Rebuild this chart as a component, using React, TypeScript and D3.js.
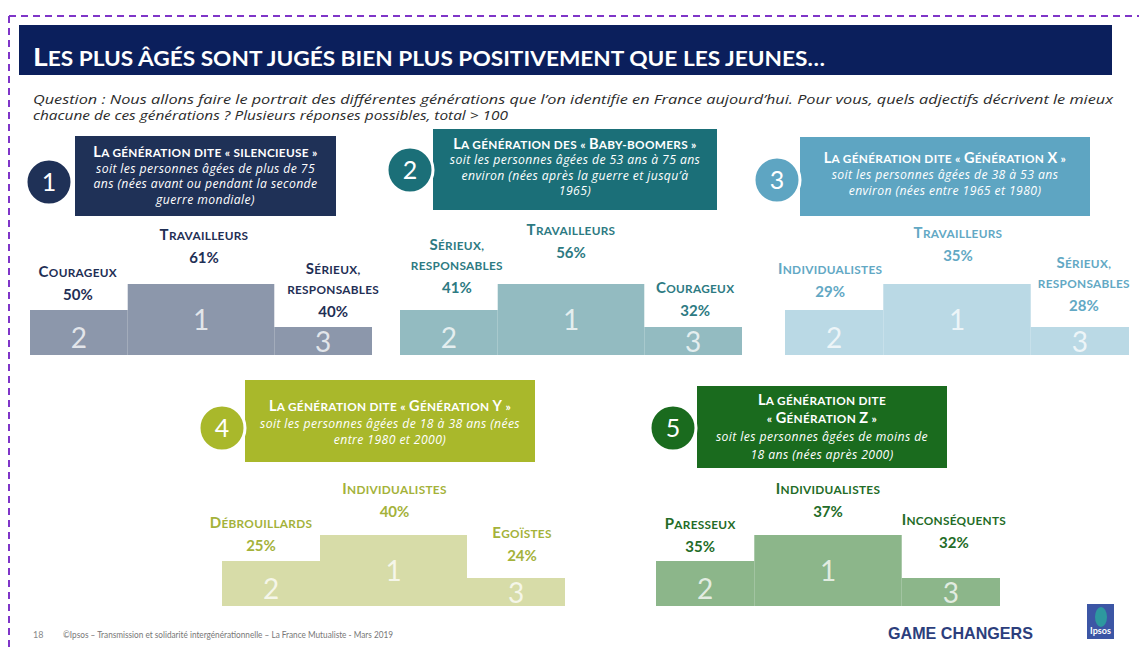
import React from 'react';
import * as d3 from 'd3';

const W = 1139;
const H = 649;

// ---------- DATA ----------
const titleText = 'Les plus âgés sont jugés bien plus positivement que les jeunes…';
const questionLines = [
  'Question : Nous allons faire le portrait des différentes générations que l’on identifie en France aujourd’hui. Pour vous, quels adjectifs décrivent le mieux',
  'chacune de ces générations ? Plusieurs réponses possibles, total > 100',
];
const pageNumber = '18';
const footerText = '©Ipsos – Transmission et solidarité intergénérationnelle – La France Mutualiste - Mars 2019';
const brandText = 'GAME CHANGERS';

const generationNumbers = [1, 2, 3, 4, 5];
const boxTitles = [
  ['La génération dite « silencieuse »'],
  ['La génération des « Baby-boomers »'],
  ['La génération dite « Génération X »'],
  ['La génération dite «  Génération Y  »'],
  ['La génération dite', '« Génération Z »'],
];
const boxSubtitles = [
  ['soit les personnes âgées de plus de 75', 'ans (nées avant ou pendant la seconde', 'guerre mondiale)'],
  ['soit les personnes âgées de 53 ans à 75 ans', 'environ (nées après la guerre et jusqu’à', '1965)'],
  ['soit les personnes âgées de 38 à 53 ans', 'environ (nées entre 1965 et 1980)'],
  ['soit les personnes âgées de 18 à 38 ans (nées', 'entre 1980 et 2000)'],
  ['soit les personnes âgées de moins de', '18 ans (nées après 2000)'],
];

const podiumRanks = [1, 2, 3];
const podiumOrder = [2, 1, 3]; // left to right

const silencieuseAdjectives = [['Travailleurs'], ['Courageux'], ['Sérieux,', 'responsables']];
const silencieuseScores = [61, 50, 40];
const babyBoomersAdjectives = [['Travailleurs'], ['Sérieux,', 'responsables'], ['Courageux']];
const babyBoomersScores = [56, 41, 32];
const generationXAdjectives = [['Travailleurs'], ['Individualistes'], ['Sérieux,', 'responsables']];
const generationXScores = [35, 29, 28];
const generationYAdjectives = [['Individualistes'], ['Débrouillards'], ['Egoïstes']];
const generationYScores = [40, 25, 24];
const generationZAdjectives = [['Individualistes'], ['Paresseux'], ['Inconséquents']];
const generationZScores = [37, 35, 32];

const adjectives = [silencieuseAdjectives, babyBoomersAdjectives, generationXAdjectives, generationYAdjectives, generationZAdjectives];
const scores = [silencieuseScores, babyBoomersScores, generationXScores, generationYScores, generationZScores];

// ---------- LAYOUT / STYLE ----------
const panels = [
  { box: { x: 75, y: 136, w: 261, h: 80 }, circle: { cx: 49, cy: 182 }, lineGap: 15.5, textDy: 0,
    pod: { x0: 30, x1: 372, bottom: 355 }, pctDy: [-21, -10, -10], dx: [3, -1, 10],
    color: '#1f3157', podium: '#8c97ab', label: '#1f2f55' },
  { box: { x: 433, y: 129, w: 284, h: 81 }, circle: { cx: 410, cy: 170 }, lineGap: 15.5, textDy: -2,
    pod: { x0: 400, x1: 742, bottom: 355 }, pctDy: [-26, -17, -11], dx: [0, 8, 2],
    color: '#1b6f78', podium: '#93bbc1', label: '#2d7a82' },
  { box: { x: 800, y: 137, w: 290, h: 79 }, circle: { cx: 777, cy: 180 }, lineGap: 16, textDy: -2,
    pod: { x0: 785, x1: 1129, bottom: 355 }, pctDy: [-23, -13, -16], dx: [1, -4, 4],
    color: '#5ea5c2', podium: '#bad9e5', label: '#62a8c4' },
  { box: { x: 245, y: 380, w: 290, h: 82 }, circle: { cx: 222, cy: 428 }, lineGap: 16.5, textDy: 2,
    pod: { x0: 222, x1: 565, bottom: 606 }, pctDy: [-18, -10, -17], dx: [1, -10, 6],
    color: '#a9b82b', podium: '#d7dca8', label: '#a4b23a' },
  { box: { x: 697, y: 386, w: 250, h: 82 }, circle: { cx: 673, cy: 428 }, lineGap: 18, textDy: 0,
    pod: { x0: 656, x1: 1000, bottom: 606 }, pctDy: [-18, -9, -30], dx: [0, -5, 3],
    color: '#1a6b1e', podium: '#8cb68a', label: '#236c27' },
];

const FONT = 'Lato, "Open Sans", sans-serif';
const ITALIC_FONT = '"Open Sans", Lato, sans-serif';
const stepSlots: [number, number][] = [[0, 2], [2, 5], [5, 7]];
const stepHeight = d3.scaleOrdinal<number, number>().domain(podiumRanks).range([71, 45, 28]);
const digitOffset = d3.scaleOrdinal<number, number>().domain(podiumRanks).range([25, 7, 3]);

function smallCaps(text: string, big: number, small: number) {
  const runs: { t: string; up: boolean }[] = [];
  for (const ch of text) {
    const up = ch !== ch.toLowerCase();
    const last = runs[runs.length - 1];
    if (last && last.up === up) last.t += ch;
    else runs.push({ t: ch, up });
  }
  return runs.map((r, i) => (
    <tspan key={i} fontSize={r.up ? big : small}>{r.up ? r.t : r.t.toUpperCase()}</tspan>
  ));
}

function Panel({ i }: { i: number }) {
  const p = panels[i];
  const x = d3.scaleLinear().domain([0, 7]).range([p.pod.x0, p.pod.x1]);
  const lines = [
    ...boxTitles[i].map((t) => ({ t, title: true })),
    ...boxSubtitles[i].map((t) => ({ t, title: false })),
  ];
  const cx = p.box.x + p.box.w / 2;
  const cy = p.box.y + p.box.h / 2 + p.textDy;
  const firstCenter = cy - ((lines.length - 1) * p.lineGap) / 2;
  return (
    <g>
      <rect x={p.box.x} y={p.box.y} width={p.box.w} height={p.box.h} fill={p.color} />
      {lines.map((l, k) => (
        <text key={k} x={cx} y={firstCenter + k * p.lineGap + 4.5} textAnchor="middle" fill="#fff"
          fontFamily={l.title ? FONT : ITALIC_FONT} fontWeight={l.title ? 700 : 400}
          fontStyle={l.title ? 'normal' : 'italic'} fontSize={l.title ? 12 : 12.2}
          letterSpacing={l.title ? 0.3 : 0.4}>
          {l.title ? smallCaps(l.t, 14.5, 11.8) : l.t}
        </text>
      ))}
      <circle cx={p.circle.cx} cy={p.circle.cy} r={23} fill={p.color} stroke="#fff" strokeWidth={3} />
      <text x={p.circle.cx} y={p.circle.cy + 8.5} textAnchor="middle" fill="#fff" fontFamily={FONT} fontSize={25}>
        {generationNumbers[i]}
      </text>
      {podiumRanks.map((rank, r) => {
        const slot = stepSlots[podiumOrder.indexOf(rank)];
        const x0 = x(slot[0]);
        const x1 = x(slot[1]);
        const top = p.pod.bottom - stepHeight(rank);
        const mid = (x0 + x1) / 2;
        const lx = mid + p.dx[r];
        const pctY = top + p.pctDy[r];
        const names = adjectives[i][r];
        return (
          <g key={rank}>
            <rect x={x0} y={top} width={x1 - x0} height={p.pod.bottom - top} fill={p.podium} />
            <text x={mid} y={p.pod.bottom - digitOffset(rank)} textAnchor="middle" fill="#fff" fillOpacity={0.75}
              fontFamily={FONT} fontSize={28}>{rank}</text>
            <text x={lx} y={pctY} textAnchor="middle" fill={p.label} fontFamily={FONT} fontWeight={700} fontSize={15}>
              {scores[i][r]}%
            </text>
            {names.map((n, k) => (
              <text key={k} x={lx} y={pctY - 23 - (names.length - 1 - k) * 20} textAnchor="middle" fill={p.label}
                fontFamily={FONT} fontWeight={700} letterSpacing={0.3}>
                {smallCaps(n, 15, 11.8)}
              </text>
            ))}
          </g>
        );
      })}
    </g>
  );
}

export default function App() {
  return (
    <svg width={W} height={H} viewBox={`0 0 ${W} ${H}`} style={{ position: 'absolute', left: 0, top: 0, background: '#fff' }}>
      <rect x={0} y={0} width={W} height={H} fill="#fff" />
      {/* dashed frame */}
      <line x1={9} y1={16} x2={W} y2={16} stroke="#7f35c8" strokeWidth={2} strokeDasharray="7 5" />
      <line x1={9} y1={16} x2={9} y2={H} stroke="#7f35c8" strokeWidth={2} strokeDasharray="7 5" />
      {/* title bar */}
      <rect x={19} y={25} width={1093} height={50} fill="#0b1f5c" />
      <text x={33} y={66} fill="#fff" fontFamily={FONT} fontWeight={700} textLength={792} lengthAdjust="spacingAndGlyphs">
        {smallCaps(titleText, 25, 20)}
      </text>
      {/* question */}
      <text x={33} y={104} fill="#2b2b2b" fontFamily={ITALIC_FONT} fontStyle="italic" fontSize={13} textLength={1080} lengthAdjust="spacingAndGlyphs">
        {questionLines[0]}
      </text>
      <text x={33} y={120} fill="#2b2b2b" fontFamily={ITALIC_FONT} fontStyle="italic" fontSize={13} textLength={475} lengthAdjust="spacingAndGlyphs">
        {questionLines[1]}
      </text>
      {generationNumbers.map((_, i) => <Panel key={i} i={i} />)}
      {/* footer */}
      <text x={33} y={638} fill="#888" fontFamily={FONT} fontSize={9}>{pageNumber}</text>
      <text x={63} y={638} fill="#777" fontFamily={FONT} fontSize={9.5} textLength={330} lengthAdjust="spacingAndGlyphs">{footerText}</text>
      <text x={888} y={639} fill="#2c3e7c" fontFamily='"Liberation Sans Narrow", "Liberation Sans", Arial, sans-serif' fontWeight={700} fontSize={17} textLength={145} lengthAdjust="spacingAndGlyphs">{brandText}</text>
      <rect x={1087} y={604} width={27} height={35} fill="#3c56a5" />
      <ellipse cx={1101} cy={617} rx={6} ry={10} fill="#2aa39e" opacity={0.85} />
      <text x={1100.5} y={634} textAnchor="middle" fill="#fff" fontFamily={FONT} fontWeight={700} fontSize={9}>Ipsos</text>
    </svg>
  );
}
